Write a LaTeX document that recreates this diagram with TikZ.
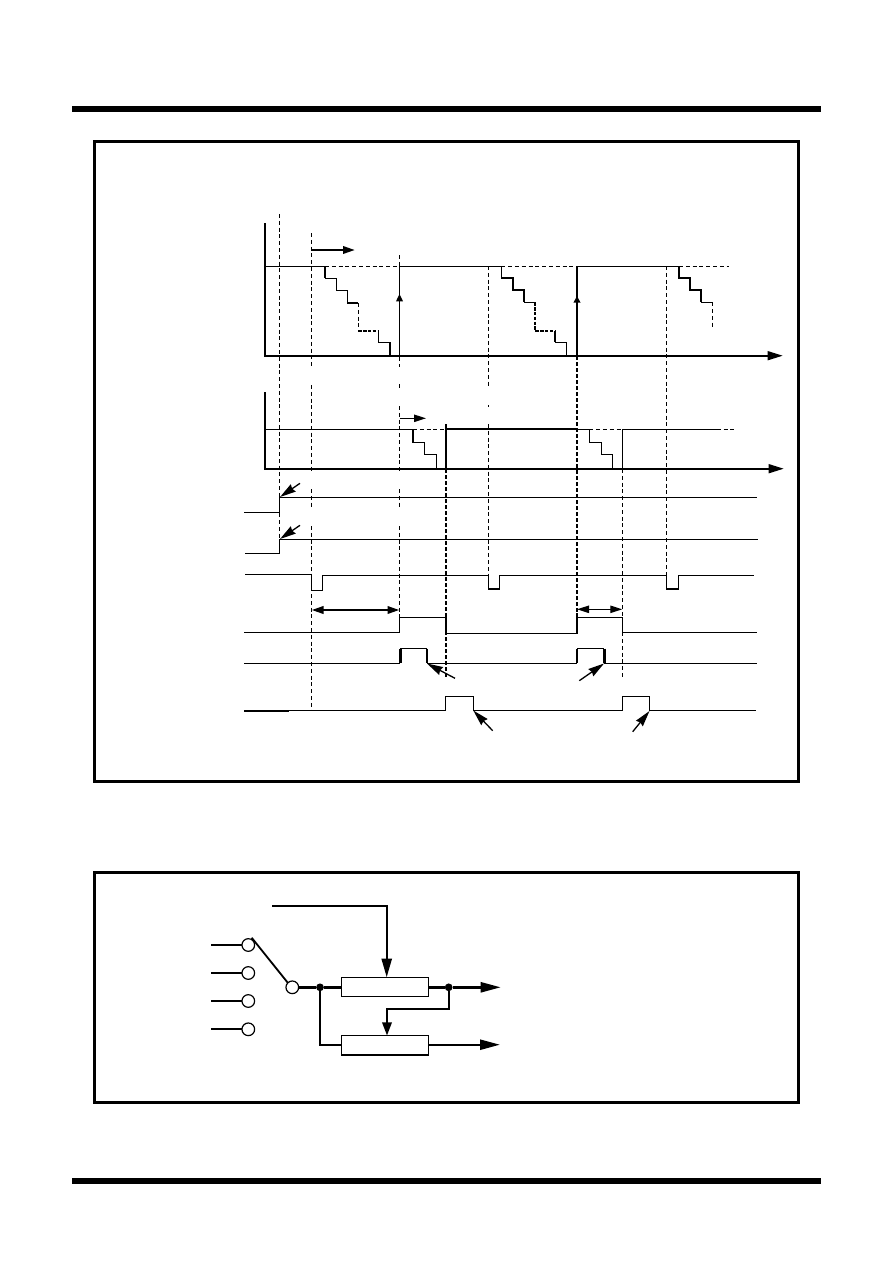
\documentclass[tikz,border=0pt]{standalone}
\usetikzlibrary{arrows.meta}
\tikzset{
  x=0.75pt, y=-0.75pt,
  thinl/.style={line width=1.3pt*0.75, line cap=butt},
  thickl/.style={line width=2.4pt*0.75},
  axisl/.style={line width=2.4pt*0.75},
  dashl/.style={line width=1.1pt*0.75, dash pattern=on 3pt off 2.1pt},
  fatdash/.style={line width=2.4pt*0.75, dash pattern=on 3pt off 1.5pt},
  stairdash/.style={line width=2.2pt*0.75, dash pattern=on 2.6pt off 1pt},
  frame/.style={draw, line width=3pt*0.75},
  rulel/.style={line width=6pt*0.75},
  bigtip/.style={-{Triangle[length=11.5pt,width=6.5pt]}},
  midtip/.style={-{Triangle[length=9pt,width=5.5pt]}},
  thintip/.style={-{Stealth[length=12pt,width=6.5pt,inset=1pt]}},
  boxn/.style={draw, line width=1.2pt*0.75, minimum width=65.5pt, minimum height=14.5pt, inner sep=0pt, outer sep=0pt},
  ringn/.style={draw, circle, line width=1.2pt*0.75, minimum size=9.5pt, inner sep=0pt, outer sep=0pt},
  dotn/.style={fill, circle, minimum size=5.8pt, inner sep=0pt, outer sep=0pt},
}
\begin{document}
\begin{tikzpicture}
\useasboundingbox (0,0) rectangle (892,1263);
% page rules and frames
\draw[rulel] (72,109) -- (821,109);
\draw[rulel] (72,1181) -- (821,1181);
\draw[frame] (94.5,141.5) rectangle (798.5,781.5);
\draw[frame] (94.5,872.5) rectangle (798.5,1102.5);

% dashed guides
\draw[dashl] (279.5,214) -- (279.5,553);
\draw[dashl] (311.5,233) -- (311.5,368) (311.5,385) -- (311.5,473) (311.5,489) -- (311.5,509) (311.5,526) -- (311.5,710);
\draw[dashl] (399.5,255) -- (399.5,367) (399.5,384) -- (399.5,389) (399.5,406) -- (399.5,473) (399.5,489) -- (399.5,508) (399.5,526) -- (399.5,633);
\draw[dashl] (488.3,266) -- (488.3,388) (488.3,405) -- (488.3,407) (488.3,424) -- (488.3,575);
\draw[fatdash] (446,469) -- (446,678);
\draw[dashl] (446,424) -- (446,429);
\draw[fatdash] (577,356) -- (577,613);
\draw[dashl] (577,613) -- (577,633);
\draw[dashl] (622.3,469) -- (622.3,678);
\draw[dashl] (666.3,266) -- (666.3,575);

% upper chart
\draw[axisl] (265,223) -- (265,356);
\draw[axisl,bigtip] (264,355.7) -- (783,355.7);
\draw[thinl] (265,266.3) -- (325,266.3);
\draw[dashl] (325,266.3) -- (399.5,266.3);
\draw[thinl] (399.5,266.3) -- (501.3,266.3);
\draw[dashl] (501.3,266.3) -- (577,266.3);
\draw[thinl] (577,266.3) -- (679,266.3);
\draw[dashl] (679,266.3) -- (729,266.3);
% stairs 1
\draw[thickl] (325,266.3) -- (325,278.3);
\draw[thinl] (325,278.3) -- (336.7,278.3) -- (336.7,290.3) -- (347.7,290.3) -- (347.7,303);
\draw[thickl] (347,303) -- (358.3,303);
\draw[dashl] (358.3,303) -- (358.3,330.7);
\draw[stairdash] (358.3,330.7) -- (378.3,330.7);
\draw[thinl] (378.3,330.7) -- (378.3,342.3) -- (390,342.3);
\draw[thickl] (390,342.3) -- (390,356);
\draw[thinl,-{Triangle[length=5.5pt,width=5pt]}] (399.5,356) -- (399.5,294);
\draw[thinl] (399.5,296) -- (399.5,266);
% stairs 2
\draw[thinl] (501.3,266.3) -- (501.3,278);
\draw[thickl] (501,278) -- (512.7,278) -- (512.7,289.7) -- (524,289.7) -- (524,302.3);
\draw[thinl] (524,302.3) -- (535,302.3);
\draw[stairdash] (535,302.3) -- (535,330.7) -- (555,330.7);
\draw[thickl] (555,330.7) -- (555,342.3);
\draw[thinl] (555,342.3) -- (566.7,342.3) -- (566.7,356);
\draw[thickl,-{Triangle[length=5pt,width=5pt]}] (577,356) -- (577,296);
\draw[thickl] (577,298) -- (577,266);
% stairs 3
\draw[thickl] (679,266.3) -- (679,277.7) -- (690,277.7) -- (690,289.7) -- (701,289.7) -- (701,302.3);
\draw[thinl] (701,302.3) -- (712.7,302.3);
\draw[dashl] (712.7,302.3) -- (712.7,329);
% run arrows
\draw[thickl,midtip] (311.5,250) -- (355,250);
\draw[thinl,midtip] (399.5,418.3) -- (426,418.3);

% lower chart
\draw[axisl] (265,392) -- (265,469);
\draw[axisl,bigtip] (264,468.7) -- (784,468.7);
\draw[thinl] (265,429.3) -- (413,429.3) -- (413,442.3) -- (424.3,442.3) -- (424.3,454.3) -- (436.7,454.3) -- (436.7,468.7);
\draw[dashl] (413,429.3) -- (446,429.3);
\draw[thickl] (446,468.7) -- (446,428.7) -- (577,428.7);
\draw[thinl] (577,429.3) -- (589.3,429.3) -- (589.3,442.3) -- (601.3,442.3) -- (601.3,454.3) -- (612.7,454.3) -- (612.7,468.7);
\draw[dashl] (589.3,429.3) -- (622.3,429.3);
\draw[thinl] (622.3,468.7) -- (622.3,429.3) -- (716.7,429.3);
\draw[dashl] (716.7,429.3) -- (735,429.3);

% signal rows
\draw[thinl] (244,512.3) -- (279.5,512.3) -- (279.5,497.3) -- (756.7,497.3);
\draw[thinl] (245,553.3) -- (279.5,553.3) -- (279.5,539.3) -- (757.7,539.3);
\draw[thinl] (245,574.3) -- (311.5,574.3) -- (311.5,590.3) -- (322.3,590.3) -- (322.3,575.3) -- (488.3,575.3) -- (488.3,589) -- (499.3,589) -- (499.3,575.3) -- (666.3,575.3) -- (666.3,589) -- (678.3,589) -- (678.3,575.3) -- (754,575.3);
\draw[thinl] (244,632.3) -- (399.5,632.3) -- (399.5,617.3) -- (446,617.3) -- (446,633.3) -- (577,633.3) -- (577,617.3) -- (622.3,617.3) -- (622.3,632.3) -- (757,632.3);
\draw[thinl] (244,663.3) -- (400.3,663.3);
\draw[thickl] (400.3,663.3) -- (400.3,648.7);
\draw[thinl] (400.3,648.7) -- (427,648.7);
\draw[thickl] (427,648.7) -- (427,663.3);
\draw[thinl] (427,663.3) -- (577,663.3);
\draw[thickl] (577,663.3) -- (577,648.7);
\draw[thinl] (577,648.7) -- (604.3,648.7);
\draw[thickl] (604.3,648.7) -- (604.3,663.3);
\draw[thinl] (604.3,663.3) -- (757,663.3);
\draw[thickl] (244,710.7) -- (289,710.7);
\draw[thinl] (289,710.3) -- (445.7,710.3) -- (445.7,696.7) -- (473.3,696.7) -- (473.3,710.3) -- (622.7,710.3) -- (622.7,696.7) -- (649.3,696.7) -- (649.3,710.3) -- (756,710.3);

% double arrows
\draw[thickl,{Triangle[length=9pt,width=5.5pt]}-{Triangle[length=9pt,width=5.5pt]}] (311.5,610) -- (399.5,610);
\draw[thinl,{Triangle[length=9pt,width=5.5pt]}-{Triangle[length=9pt,width=5.5pt]}] (577,609.3) -- (622.3,609.3);

% pointers
\draw[thinl,thintip] (300,483.3) -- (280,497);
\draw[thinl,thintip] (300,525.3) -- (280,539);
\draw[thinl,thintip] (455,678.3) -- (427,663.5);
\draw[thinl,thintip] (579.3,680.7) -- (604,663.5);
\draw[thinl,thintip] (492.7,730.7) -- (473.3,710.5);
\draw[thinl,thintip] (632.7,731.7) -- (649.5,711);

% lower diagram
\node[boxn] (b1) at (385,987) {};
\node[boxn] (b2) at (385,1045.3) {};
\node[ringn] (r1) at (248.3,945) {};
\node[ringn] (r2) at (248.3,973) {};
\node[ringn] (r3) at (248.3,1001) {};
\node[ringn] (r4) at (248.3,1029.3) {};
\node[ringn] (rs) at (292.3,987.3) {};
\node[dotn] (d1) at (320,987.3) {};
\node[dotn] (d2) at (448.7,987.3) {};
\coordinate (c0) at (272.3,905.7);
\coordinate (i1) at (211,945);
\coordinate (i2) at (211,973);
\coordinate (i3) at (211,1001);
\coordinate (i4) at (211,1029.3);
\coordinate (o1) at (500.7,987.3);
\coordinate (o2) at (500,1044.7);
\coordinate (sw) at (251.7,937.7);
\draw[line width=1.8pt*0.75] (i1) -- (r1);
\draw[line width=1.8pt*0.75] (i2) -- (r2);
\draw[thinl] (i3) -- (r3);
\draw[line width=1.8pt*0.75] (i4) -- (r4);
\draw[line width=1.8pt*0.75] (sw) -- (rs.north west);
\draw[thickl] (rs) -- (d1) -- (b1.west |- d1);
\draw[thickl] (d1) |- (b2.west |- o2);
\draw[thickl,-{Triangle[length=14pt,width=7.5pt]}] (c0) -| (b1.north -| 386.7,0);
\draw[thickl] (b1.east |- d2) -- (d2);
\draw[thickl,-{Triangle[length=15pt,width=7.5pt]}] (d2) -- (o1);
\draw[thickl,-{Triangle[length=15pt,width=7.5pt]}] (b2.east |- o2) -- (o2);
\draw[thickl,-{Triangle[length=10pt,width=7pt]}] (d2) |- (387,1008.7) -- (b2.north -| 387,0);
\end{tikzpicture}
\end{document}
